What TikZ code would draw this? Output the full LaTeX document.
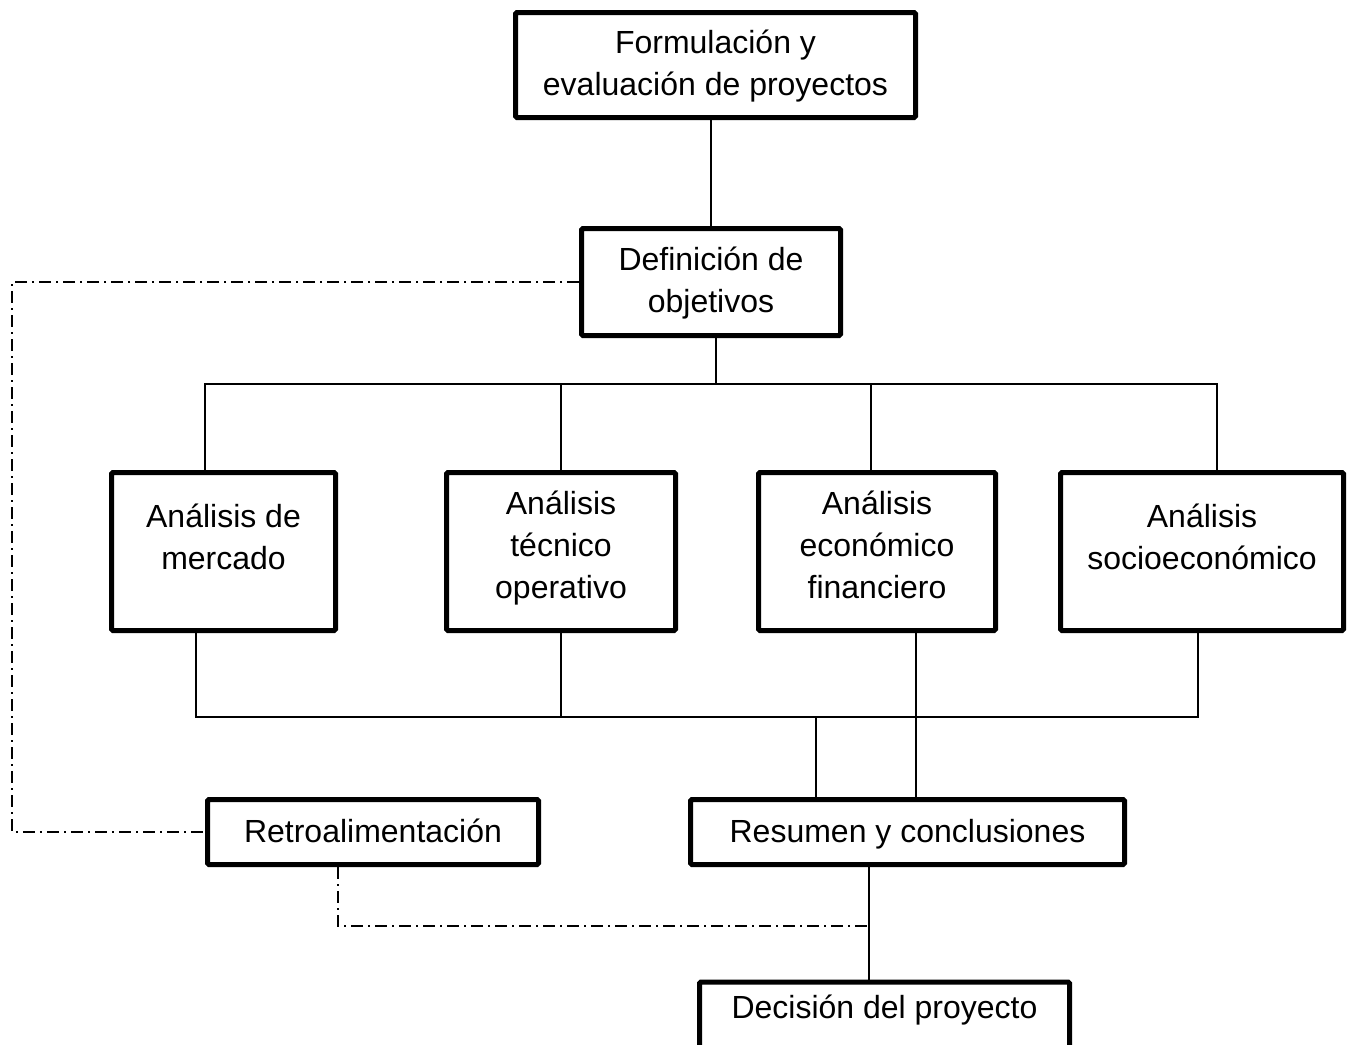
\documentclass[tikz,border=0pt]{standalone}
\usepackage{fontspec}
\setmainfont{Liberation Sans}
\usetikzlibrary{calc}
\begin{document}
\begin{tikzpicture}[x=1pt,y=-1pt,
  box/.style={draw, line width=5pt, rounded corners=1.5pt, align=center,
    inner sep=0pt, font=\fontsize{32}{42}\selectfont},
  % text height/depth place the last baseline inside each box
  oneline/.style={text height=25pt, text depth=5pt},
  twoline/.style={text height=40pt, text depth=5pt},
  threeline/.style={text height=98pt, text depth=5pt},
  link/.style={line width=1.5pt},
  feedback/.style={line width=1.5pt, dash pattern=on 12pt off 5pt on 2pt off 5pt}]
\useasboundingbox (0,0) rectangle (1348,1044);
\clip (0,0) rectangle (1348,1044);

% boxes
\node[box, text height=65pt, text depth=5pt, minimum width=400pt, minimum height=105pt] (top) at (715.5,65) {Formulación y\\evaluación de proyectos};
\node[box, text height=65pt, text depth=5pt, minimum width=259pt, minimum height=107pt] (def) at (711,282) {Definición de\\objetivos};
\node[box, twoline, minimum width=224pt, minimum height=158pt] (mer) at (223.5,551.5) {Análisis de\\mercado};
\node[box, threeline, minimum width=229pt, minimum height=158pt] (tec) at (561,551.5) {Análisis\\técnico\\operativo};
\node[box, threeline, minimum width=237pt, minimum height=158pt] (eco) at (877,551.5) {Análisis\\económico\\financiero};
\node[box, twoline, minimum width=283pt, minimum height=158pt] (soc) at (1202,551.5) {Análisis\\socioeconómico};
\node[box, oneline, minimum width=331pt, minimum height=65pt] (ret) at (373,832) {Retroalimentación};
\node[box, oneline, minimum width=434pt, minimum height=65pt] (res) at (907.5,832) {Resumen y conclusiones};
\node[box, minimum width=370pt, text height=36.5pt, text depth=80pt, anchor=north] (dec) at (884.5,979.5) {Decisión del proyecto};

% bus junctions
\coordinate (t1) at (716,384);
\coordinate (tbL) at (205,384);
\coordinate (tbR) at (1217,384);
\coordinate (lbL) at (196,717);
\coordinate (lbR) at (1198,717);
\coordinate (l1) at (816,717);
\coordinate (l2) at (916,717);
\coordinate (rd) at (869,926);
\coordinate (fbL) at (12,0);
\coordinate (fbB) at (338,926);

% solid connectors
\draw[link] (def.north) -- (def.north |- top.south);
\draw[link] (def.south -| t1) -- (t1);
\draw[link] (mer.north -| tbL) -- (tbL) -- (tbR) -- (soc.north -| tbR);
\draw[link] (tec.north) -- (tec.north |- tbL);
\draw[link] (eco.north -| 871,0) -- (871,384);
\draw[link] (mer.south -| lbL) -- (lbL) -- (lbR) -- (soc.south -| lbR);
\draw[link] (tec.south) -- (tec.south |- lbL);
\draw[link] (eco.south -| l2) -- (res.north -| l2);
\draw[link] (l1) -- (res.north -| l1);
\draw[link] (res.south -| rd) -- (dec.north -| rd);

% feedback paths
\draw[feedback] (def.west) -- (def.west -| fbL) -- (ret.west -| fbL) -- (ret.west);
\draw[feedback] (ret.south -| fbB) -- (fbB) -- (rd);
\end{tikzpicture}
\end{document}
